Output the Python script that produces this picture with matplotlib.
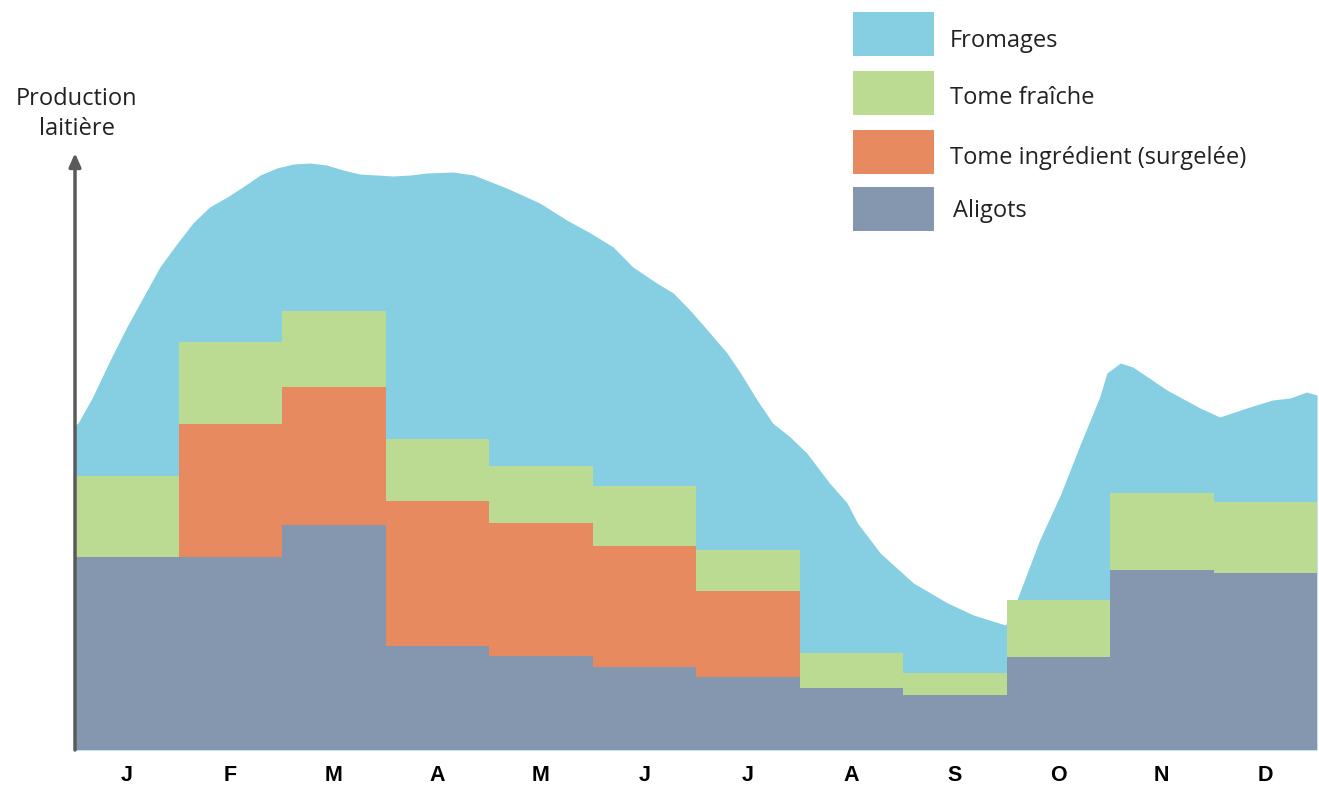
import matplotlib.pyplot as plt
from matplotlib.patches import Rectangle
import numpy as np

# données (unités arbitraires)
months = ["J", "F", "M", "A", "M", "J", "J", "A", "S", "O", "N", "D"]
aligots = [19.3, 19.3, 22.5, 10.4, 9.4, 8.3, 7.3, 6.2, 5.5, 9.3, 18.0, 17.7]
tome_ingredient = [0, 13.3, 13.8, 14.5, 13.3, 12.1, 8.6, 0, 0, 0, 0, 0]
tome_fraiche = [8.1, 8.2, 7.6, 6.2, 5.7, 6.0, 4.1, 3.5, 2.2, 5.7, 7.7, 7.1]

# courbe totale (fromages au-dessus), position en mois
curve_x = [0.00, 0.03, 0.17, 0.34, 0.50, 0.66, 0.82, 0.99, 1.14, 1.30, 1.47, 1.62,
           1.79, 1.95, 2.11, 2.27, 2.43, 2.59, 2.75, 2.92, 3.07, 3.24, 3.40, 3.65,
           3.85, 4.17, 4.49, 4.75, 4.98, 5.20, 5.39, 5.62, 5.78, 5.94, 6.11, 6.30,
           6.43, 6.59, 6.74, 6.91, 7.07, 7.29, 7.46, 7.56, 7.78, 8.10, 8.43, 8.68,
           8.99, 9.10, 9.32, 9.52, 9.71, 9.90, 9.97, 10.10, 10.22, 10.55, 10.87,
           11.06, 11.35, 11.57, 11.74, 11.90, 12.00]
curve_y = [32.5, 32.7, 35.3, 39.0, 42.3, 45.3, 48.3, 50.7, 52.7, 54.3, 55.3, 56.3,
           57.5, 58.2, 58.6, 58.7, 58.5, 58.0, 57.6, 57.5, 57.4, 57.5, 57.7, 57.8,
           57.5, 56.2, 54.7, 53.0, 51.7, 50.3, 48.3, 46.7, 45.7, 44.0, 42.0, 39.7,
           37.7, 35.0, 32.7, 31.3, 29.7, 26.7, 24.7, 22.7, 19.7, 16.7, 14.7, 13.5,
           12.5, 15.0, 21.0, 25.5, 30.5, 35.3, 37.7, 38.7, 38.3, 36.0, 34.2,
           33.3, 34.3, 35.0, 35.2, 35.8, 35.5]

c_from = "#86CEE1"
c_fraiche = "#BBDA92"
c_ingr = "#E88A60"
c_alig = "#8497AF"

leg_labels = ["Fromages", "Tome fraîche", "Tome ingrédient (surgelée)", "Aligots"]
leg_colors = [c_from, c_fraiche, c_ingr, c_alig]

W, H = 1319, 787
fig = plt.figure(figsize=(W / 100, H / 100), dpi=100)
ax = fig.add_axes([75 / W, (H - 750) / H, 1242 / W, 750 / H])

x = np.arange(len(months))
ax.fill_between(curve_x, curve_y, 0, color=c_from, lw=0, zorder=1)
ax.bar(x, aligots, width=1, align="edge", color=c_alig, lw=0, zorder=2)
b2 = np.array(aligots)
ax.bar(x, tome_ingredient, width=1, align="edge", bottom=b2, color=c_ingr, lw=0, zorder=2)
b3 = b2 + np.array(tome_ingredient)
ax.bar(x, tome_fraiche, width=1, align="edge", bottom=b3, color=c_fraiche, lw=0, zorder=2)

ax.set_xlim(0, 12)
ax.set_ylim(0, 75)
for s in ax.spines.values():
    s.set_visible(False)
ax.set_yticks([])
ax.set_xticks(x + 0.5)
ax.set_xticklabels(months, fontsize=15.5, fontweight="bold", family="Liberation Sans")
ax.tick_params(axis="x", length=0, pad=11)

# axe vertical avec flèche
ax.annotate("", xy=(0, 59.7), xytext=(0, 0), xycoords="data",
            arrowprops=dict(arrowstyle="-|>,head_length=0.8,head_width=0.35",
                            color="#5a5a5a", lw=2.5, shrinkA=0, shrinkB=0),
            annotation_clip=False, zorder=5)

fig.text(77 / W, 1 - 105 / H, "Production", ha="center", va="baseline",
         fontsize=17, family="Open Sans", color="#222222")
fig.text(77 / W, 1 - 135 / H, "laitière", ha="center", va="baseline",
         fontsize=17, family="Open Sans", color="#222222")

# légende dessinée à la main (cases larges)
box_top = [12, 71, 130, 187]
text_base = [47, 104, 164, 217]
text_x = [950, 950, 950, 953]
for i, (lab, col) in enumerate(zip(leg_labels, leg_colors)):
    y0 = box_top[i]
    fig.add_artist(Rectangle((853 / W, 1 - (y0 + 44) / H), 81 / W, 44 / H,
                             transform=fig.transFigure, color=col, lw=0))
    fig.text(text_x[i] / W, 1 - text_base[i] / H, lab, ha="left", va="baseline",
             fontsize=17, family="Open Sans", color="#222222")

fig.savefig("out.png", dpi=100)
